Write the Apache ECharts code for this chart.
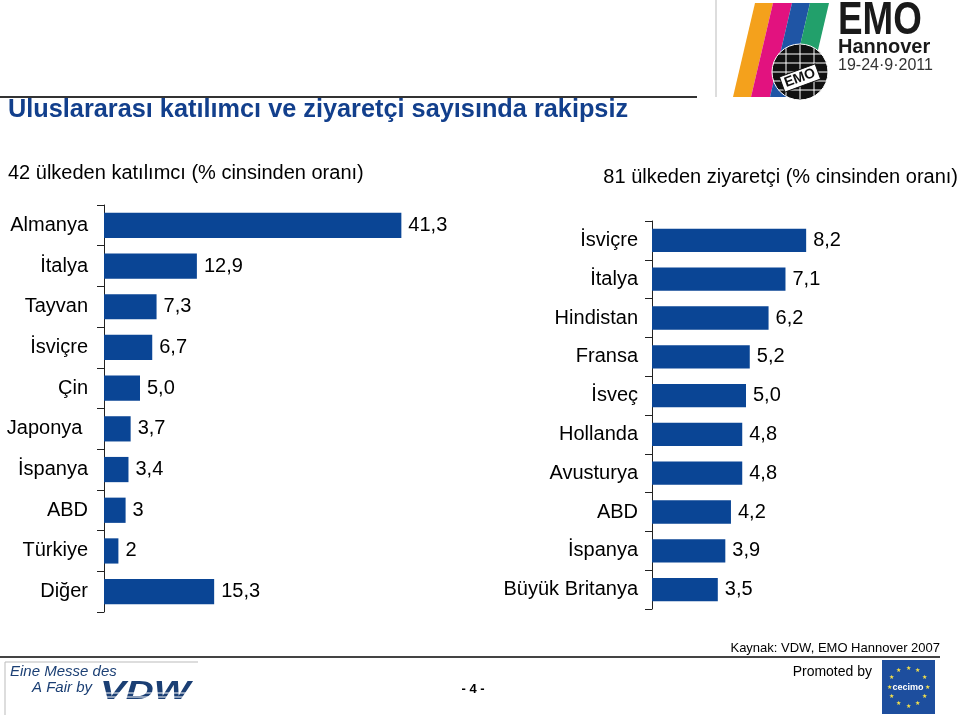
<!DOCTYPE html>
<html>
<head>
<meta charset="utf-8">
<style>
  html, body { margin: 0; padding: 0; background: #fff; }
  #chart { width: 960px; height: 715px; }
</style>
<script src="https://cdn.jsdelivr.net/npm/echarts@6/dist/echarts.min.js"></script>
</head>
<body>
<div id="chart"></div>
<script>
// katılımcı (exhibitors) by country, % share
const exhibitorCountries = ["Almanya", "İtalya", "Tayvan", "İsviçre", "Çin", "Japonya ", "İspanya", "ABD", "Türkiye", "Diğer"];
const exhibitorValues = [41.3, 12.9, 7.3, 6.7, 5.0, 3.7, 3.4, 3, 2, 15.3];
const exhibitorLabels = ["41,3", "12,9", "7,3", "6,7", "5,0", "3,7", "3,4", "3", "2", "15,3"];

// ziyaretçi (visitors) by country, % share
const visitorCountries = ["İsviçre", "İtalya", "Hindistan", "Fransa", "İsveç", "Hollanda", "Avusturya", "ABD", "İspanya", "Büyük Britanya"];
const visitorValues = [8.2, 7.1, 6.2, 5.2, 5.0, 4.8, 4.8, 4.2, 3.9, 3.5];
const visitorLabels = ["8,2", "7,1", "6,2", "5,2", "5,0", "4,8", "4,8", "4,2", "3,9", "3,5"];

const FONT = "'Liberation Sans', Arial, sans-serif";
const BAR = "#0a4595";

const chart = echarts.init(document.getElementById("chart"), null, { renderer: "canvas" });

function txt(text, x, y, size, opts) {
  opts = opts || {};
  return {
    type: "text",
    x: x,
    y: y,
    scaleX: opts.scaleX || 1,
    rotation: opts.rotation || 0,
    style: {
      text: text,
      fontSize: size,
      fontFamily: FONT,
      fontWeight: opts.weight || "normal",
      fontStyle: opts.style || "normal",
      fill: opts.color || "#000",
      textAlign: opts.align || "left",
      textVerticalAlign: "middle"
    }
  };
}

function hline(x1, x2, y, color, w) {
  return { type: "line", shape: { x1: x1, y1: y, x2: x2, y2: y }, style: { stroke: color, lineWidth: w } };
}

// cecimo star ring
const stars = [];
for (let i = 0; i < 12; i++) {
  const a = (i / 12) * Math.PI * 2;
  stars.push(txt("★", 908 + Math.cos(a) * 19, 687 + Math.sin(a) * 19, 6, { color: "#f5e04a", align: "center" }));
}

// globe lines
const globe = [
  { type: "circle", shape: { cx: 800, cy: 72, r: 28 }, style: { fill: "#111" } },
  { type: "circle", shape: { cx: 800, cy: 72, r: 28 }, style: { fill: "none", stroke: "#fff", lineWidth: 1 } }
];
[-18, -9, 0, 9, 18].forEach(function (d) {
  const half = Math.sqrt(28 * 28 - d * d);
  globe.push({ type: "line", shape: { x1: 800 - half, y1: 72 + d, x2: 800 + half, y2: 72 + d }, style: { stroke: "#fff", lineWidth: 1 } });
});
[-0.5, 0, 0.5].forEach(function (k) {
  globe.push({ type: "line", shape: { x1: 800 + k * 28, y1: 72 - 27 * Math.cos(k), x2: 800 + k * 28, y2: 72 + 27 * Math.cos(k) }, style: { stroke: "#fff", lineWidth: 1 } });
});
globe.push({ type: "rect", x: 800, y: 78, rotation: 0.35, shape: { x: -19, y: -8, width: 38, height: 16 }, style: { fill: "#fff", stroke: "#111", lineWidth: 1 } });
globe.push(txt("EMO", 800, 78, 14, { weight: "bold", align: "center", rotation: 0.35, color: "#111" }));

const catAxis = {
  type: "category",
  inverse: true,
  axisLine: { show: true, lineStyle: { color: "#222", width: 1 } },
  axisTick: { show: true, alignWithLabel: false, length: 7, lineStyle: { color: "#222", width: 1 } },
  splitLine: { show: false }
};

chart.setOption({
  backgroundColor: "#fff",
  animation: false,
  textStyle: { fontFamily: FONT },
  grid: [
    { left: 104, top: 205, width: 324, height: 407 },
    { left: 652, top: 221, width: 188, height: 388 }
  ],
  xAxis: [
    { gridIndex: 0, type: "value", min: 0, max: 45, show: false },
    { gridIndex: 1, type: "value", min: 0, max: 10, show: false }
  ],
  yAxis: [
    Object.assign({}, catAxis, {
      gridIndex: 0,
      data: exhibitorCountries,
      axisLabel: { fontSize: 20, color: "#000", margin: 16, fontFamily: FONT }
    }),
    Object.assign({}, catAxis, {
      gridIndex: 1,
      data: visitorCountries,
      axisLabel: { fontSize: 20, color: "#000", margin: 14, fontFamily: FONT }
    })
  ],
  series: [
    {
      type: "bar",
      xAxisIndex: 0,
      yAxisIndex: 0,
      data: exhibitorValues,
      barCategoryGap: "38%",
      itemStyle: { color: BAR },
      label: {
        show: true,
        position: "right",
        distance: 7,
        fontSize: 20,
        color: "#000",
        fontFamily: FONT,
        formatter: function (p) { return exhibitorLabels[p.dataIndex]; }
      }
    },
    {
      type: "bar",
      xAxisIndex: 1,
      yAxisIndex: 1,
      data: visitorValues,
      barCategoryGap: "40%",
      itemStyle: { color: BAR },
      label: {
        show: true,
        position: "right",
        distance: 7,
        fontSize: 20,
        color: "#000",
        fontFamily: FONT,
        formatter: function (p) { return visitorLabels[p.dataIndex]; }
      }
    }
  ],
  graphic: [
    // header
    hline(0, 697, 97, "#333", 2),
    txt("Uluslararası katılımcı ve ziyaretçi sayısında rakipsiz", 8, 110, 25.3, { weight: "bold", color: "#123f8c" }),
    txt("42 ülkeden katılımcı (% cinsinden oranı)", 8, 173, 20),
    txt("81 ülkeden ziyaretçi (% cinsinden oranı)", 958, 177, 20, { align: "right" }),

    // EMO logo
    { type: "line", shape: { x1: 716, y1: 0, x2: 716, y2: 97 }, style: { stroke: "#bbb", lineWidth: 1 } },
    { type: "polygon", shape: { points: [[755, 3], [773, 3], [751, 97], [733, 97]] }, style: { fill: "#f4a11c" } },
    { type: "polygon", shape: { points: [[773, 3], [792, 3], [770, 97], [751, 97]] }, style: { fill: "#e2127f" } },
    { type: "polygon", shape: { points: [[792, 3], [810, 3], [788, 97], [770, 97]] }, style: { fill: "#1f55a5" } },
    { type: "polygon", shape: { points: [[810, 3], [829, 3], [807, 97], [788, 97]] }, style: { fill: "#22a06b" } }
  ].concat(globe).concat([
    txt("EMO", 838, 21, 46, { weight: "bold", scaleX: 0.8, color: "#1a1a1a" }),
    txt("Hannover", 838, 47, 20, { weight: "bold", color: "#1a1a1a" }),
    txt("19-24·9·2011", 838, 66, 16, { color: "#333" }),

    // footer
    hline(0, 940, 657, "#444", 2),
    txt("Kaynak: VDW, EMO Hannover 2007", 940, 648, 13, { align: "right" }),
    txt("- 4 -", 473, 689, 13, { weight: "bold", align: "center" }),
    txt("Promoted by", 872, 672, 14, { align: "right" }),

    // VDW logo
    hline(5, 198, 662, "#bbb", 1),
    { type: "line", shape: { x1: 5, y1: 662, x2: 5, y2: 715 }, style: { stroke: "#bbb", lineWidth: 1 } },
    txt("Eine Messe des", 10, 672, 15, { style: "italic", color: "#1b3f74" }),
    txt("A Fair by", 32, 688, 15, { style: "italic", color: "#1b3f74" }),
    txt("VDW", 100, 692, 25, { weight: "bold", style: "italic", scaleX: 1.55, color: "#1b3f74" }),
    hline(98, 196, 693, "#fff", 1),
    hline(98, 196, 697, "#fff", 1),

    // cecimo logo
    { type: "rect", shape: { x: 882, y: 660, width: 53, height: 54 }, style: { fill: "#1d4e9e" } }
  ]).concat(stars).concat([
    txt("cecimo", 908, 688, 9, { weight: "bold", align: "center", color: "#fff" })
  ])
});
</script>
</body>
</html>
